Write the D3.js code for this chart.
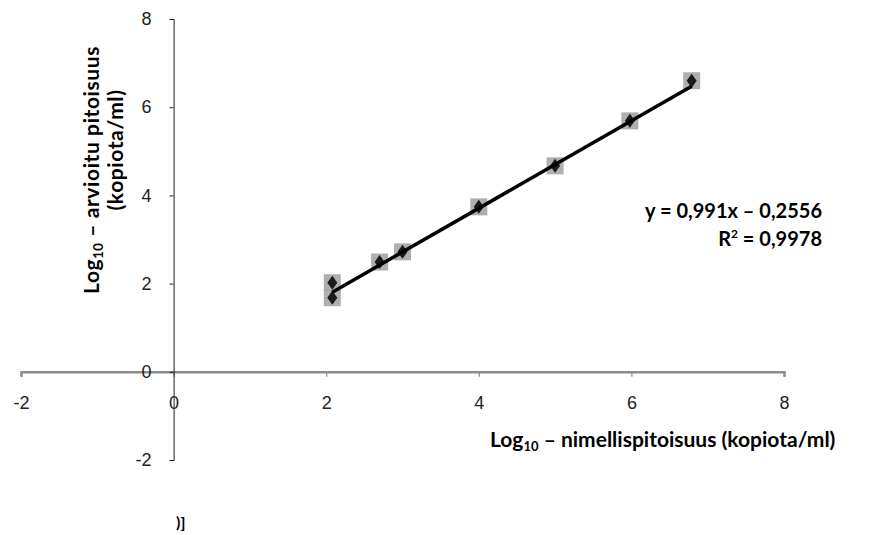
<!DOCTYPE html>
<html>
<head>
<meta charset="utf-8" />
<title>Log10 – arvioitu pitoisuus</title>
<style>
html, body {
    margin: 0;
    padding: 0;
    background: #fff;
}
#chart {
    width: 874px;
    height: 535px;
}
</style>
</head>
<body>
<div id="chart"></div>
<script src="https://d3js.org/d3.v7.min.js"></script>
<script>
// data
var nominal   = [2.08, 2.08, 2.7, 3.0, 4.0, 5.0, 5.98, 6.79]
var estimated = [2.02, 1.68, 2.49, 2.72, 3.74, 4.67, 5.69, 6.6]
var xTicks = [-2, 0, 2, 4, 6, 8]
var yTicks = [-2, 0, 2, 4, 6, 8]
var slope = 0.991
var intercept = -0.2556
var equationText = "y = 0,991x – 0,2556"
var r2Text = "0,9978"

!(function(){
    "use strict"

    var width = 874, height = 535
    var titleFont = "Lato, 'Open Sans', sans-serif"
    var tickFont = "'Liberation Sans', Arial, sans-serif"
    var fmt = function(d){ return String(d) }   // plain hyphen, as in the picture

    var svg = d3.select("#chart").append("svg")
        .attr("width", width)
        .attr("height", height)

    var x = d3.scaleLinear().domain([-2, 8]).range([21, 784])
    var y = d3.scaleLinear().domain([-2, 8]).range([460, 19])

    var points = nominal.map(function(d, i){ return {x: d, y: estimated[i]} })

    // x axis first, the y axis line runs over it
    var xAxis = svg.append("g")
        .attr("transform", "translate(0," + y(0) + ")")
        .call(d3.axisBottom(x).tickValues(xTicks).tickFormat(fmt).tickSize(5).tickSizeOuter(5).tickPadding(19))
    xAxis.select(".domain").attr("stroke", "#8c8c8c").attr("stroke-width", 2.5)
    xAxis.selectAll(".tick line").attr("stroke", "#8c8c8c").attr("stroke-width", 1.2)
    xAxis.selectAll(".tick text")
        .attr("font-family", tickFont)
        .attr("font-size", "18px")
        .attr("fill", "#222")

    var yAxis = svg.append("g")
        .attr("transform", "translate(" + x(0) + ",0)")
        .call(d3.axisLeft(y).tickValues(yTicks).tickFormat(fmt).tickSize(4).tickSizeOuter(4).tickPadding(18))
    yAxis.select(".domain").attr("stroke", "#222").attr("stroke-width", 1)
    yAxis.selectAll(".tick line").attr("stroke", "#222")
    yAxis.selectAll(".tick text")
        .attr("font-family", tickFont)
        .attr("font-size", "18px")
        .attr("fill", "#222")

    var x0 = d3.min(nominal), x1 = d3.max(nominal)

    // gray squares
    svg.append("g").selectAll("rect")
        .data(points)
        .enter().append("rect")
        .attr("x", function(d){ return x(d.x) - 8.5 })
        .attr("y", function(d){ return y(d.y) - 8.5 })
        .attr("width", 17)
        .attr("height", 17)
        .attr("fill", "#a6a6a6")
        .attr("opacity", 0.9)

    // black diamonds
    svg.append("g").selectAll("path")
        .data(points)
        .enter().append("path")
        .attr("d", function(d){
            var cx = x(d.x), cy = y(d.y)
            return "M" + cx + "," + (cy - 7) + "L" + (cx + 5) + "," + cy +
                   "L" + cx + "," + (cy + 7) + "L" + (cx - 5) + "," + cy + "Z"
        })
        .attr("fill", "#1a1a1a")

    // trendline over the markers
    svg.append("line")
        .attr("x1", x(x0)).attr("y1", y(slope * x0 + intercept))
        .attr("x2", x(x1)).attr("y2", y(slope * x1 + intercept))
        .attr("stroke", "#000")
        .attr("stroke-width", 3.5)

    // y axis title (two lines)
    var yTitle = svg.append("text")
        .attr("transform", "translate(92,170) rotate(-90)")
        .attr("text-anchor", "middle")
        .attr("dy", "0.35em")
        .attr("font-family", titleFont)
        .attr("font-weight", "bold")
        .attr("font-size", "21px")
        .attr("letter-spacing", "0.6px")
        .attr("fill", "#000")
    yTitle.append("tspan").text("Log")
    yTitle.append("tspan").attr("font-size", "13px").attr("dy", "4").text("10")
    yTitle.append("tspan").attr("dy", "-4").text(" – arvioitu pitoisuus")

    svg.append("text")
        .attr("transform", "translate(116,150) rotate(-90)")
        .attr("text-anchor", "middle")
        .attr("dy", "0.35em")
        .attr("font-family", titleFont)
        .attr("font-weight", "bold")
        .attr("font-size", "21px")
        .attr("letter-spacing", "0.6px")
        .text("(kopiota/ml)")

    // x axis title
    var xTitle = svg.append("text")
        .attr("x", 490)
        .attr("y", 447)
        .attr("font-family", titleFont)
        .attr("font-weight", "bold")
        .attr("font-size", "21px")
        .attr("fill", "#000")
    xTitle.append("tspan").text("Log")
    xTitle.append("tspan").attr("font-size", "13px").attr("dy", "4").text("10")
    xTitle.append("tspan").attr("dy", "-4").text(" – nimellispitoisuus (kopiota/ml)")

    // equation
    svg.append("text")
        .attr("x", 822)
        .attr("y", 218)
        .attr("text-anchor", "end")
        .attr("font-family", titleFont)
        .attr("font-weight", "bold")
        .attr("font-size", "20px")
        .text(equationText)

    var r2 = svg.append("text")
        .attr("x", 822)
        .attr("y", 246)
        .attr("text-anchor", "end")
        .attr("font-family", titleFont)
        .attr("font-weight", "bold")
        .attr("font-size", "20px")
    r2.append("tspan").text("R")
    r2.append("tspan").attr("font-size", "12px").attr("dy", "-8").text("2")
    r2.append("tspan").attr("dy", "8").text(" = " + r2Text)

    svg.append("text")
        .attr("x", 176)
        .attr("y", 528)
        .attr("font-family", titleFont)
        .attr("font-weight", "bold")
        .attr("font-size", "16px")
        .text(")]")
}());
</script>
</body>
</html>
